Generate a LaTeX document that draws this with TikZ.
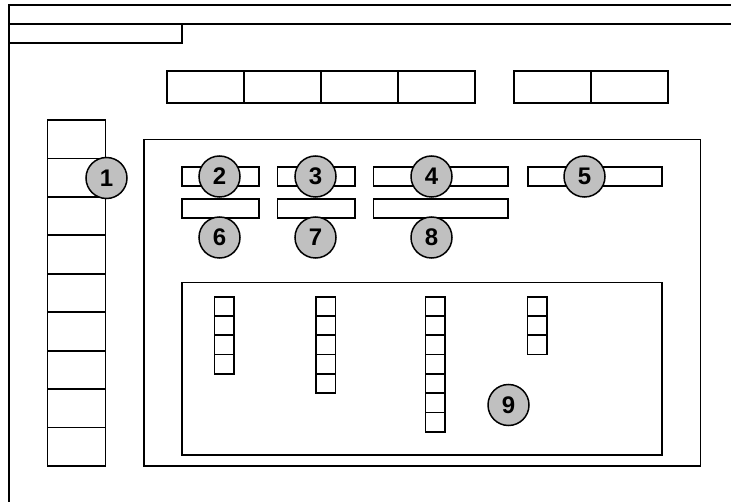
\documentclass[tikz,border=0pt]{standalone}
\usepackage{fontspec}
\setmainfont{Liberation Sans}
\definecolor{ballgray}{HTML}{C0C0C0}
\tikzset{
  ln/.style={line width=1.8pt, line cap=rect},
  ball/.style={circle, draw, line width=1.5pt, fill=ballgray, minimum size=41pt, inner sep=0pt, font=\fontsize{24}{24}\selectfont\bfseries}
}
\begin{document}
\begin{tikzpicture}[x=1pt,y=-1pt]
\useasboundingbox (0,0) rectangle (731,502);
% outer frame
\coordinate (tl) at (9,5);
\coordinate (tr) at (731,5);
\coordinate (hl) at (9,24);
\coordinate (hr) at (731,24);
\coordinate (bl) at (9,502);
\draw[ln] (tr) -- (tl) -- (bl);
\draw[ln] (hl) -- (hr);
\draw[ln] (9,24) rectangle (182,43);
% top row boxes
\foreach \a/\b in {167/244,244/321,321/398,398/475,514/591,591/668}{
  \draw[ln] (\a,71) rectangle (\b,103);
}
% left column
\foreach \i in {0,...,8}{
  \draw[ln] (47.5,{120+38.44*\i}) rectangle (105.5,{120+38.44*(\i+1)});
}
% inner frame
\draw[ln] (144,139.5) rectangle (700.5,466);
% sub frame
\draw[ln] (182,282.5) rectangle (662,455);
% label boxes
\foreach \a/\b/\y in {182/259/167, 277.5/355/167, 373.5/508/167, 528/662/167,
                      182/259/199, 277.5/355/199, 373.5/508/199}{
  \draw[ln] (\a,\y) rectangle (\b,{\y+19});
}
% small columns
\foreach \x/\n in {214.5/4, 316/5, 425.5/7, 527.5/3}{
  \foreach \k in {1,...,\n}{
    \draw[ln] (\x,{296.7+19.3*(\k-1)}) rectangle ({\x+19.5},{296.7+19.3*\k});
  }
}
% numbered balls
\node[ball] (n1) at (106.5,178) {1};
\node[ball] (n2) at (219.5,176.5) {2};
\node[ball] (n3) at (315.5,176.5) {3};
\node[ball] (n4) at (431.5,176.5) {4};
\node[ball] (n5) at (584.5,176.5) {5};
\node[ball] (n6) at (219.5,237.5) {6};
\node[ball] (n7) at (315.5,237.5) {7};
\node[ball] (n8) at (431.5,237.5) {8};
\node[ball] (n9) at (508.5,405) {9};
\end{tikzpicture}
\end{document}
